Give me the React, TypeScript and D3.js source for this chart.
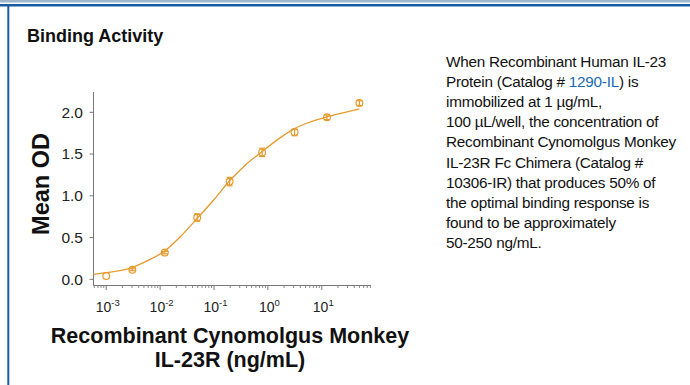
import React from "react";
import * as d3 from "d3";

const concentrations = [0.001, 0.00305, 0.0122, 0.0488, 0.195, 0.781, 3.125, 12.5, 50];
const meanOD = [0.04, 0.115, 0.32, 0.74, 1.17, 1.52, 1.76, 1.94, 2.11];
const errorOD = [0, 0.012, 0.015, 0.044, 0.05, 0.05, 0.04, 0.028, 0.028];

const fitX = [0.00058, 0.001, 0.00304, 0.00571, 0.0122, 0.0237, 0.0488, 0.0986, 0.195, 0.384, 0.78, 1.49, 3.12, 6.19, 12.5, 25.8, 50];
const fitY = [0.06, 0.08, 0.14, 0.22, 0.34, 0.51, 0.73, 0.95, 1.18, 1.37, 1.53, 1.67, 1.805, 1.885, 1.945, 1.995, 2.04];

const yTicks = [0, 0.5, 1.0, 1.5, 2.0];
const xMajorExps = [-3, -2, -1, 0, 1];

const descLines: { text: string; link?: string; after?: string }[] = [
  { text: "When Recombinant Human IL-23" },
  { text: "Protein (Catalog # ", link: "1290-IL", after: ") is" },
  { text: "immobilized at 1 µg/mL," },
  { text: "100 µL/well, the concentration of" },
  { text: "Recombinant Cynomolgus Monkey" },
  { text: "IL-23R Fc Chimera (Catalog #" },
  { text: "10306-IR) that produces 50% of" },
  { text: "the optimal binding response is" },
  { text: "found to be approximately" },
  { text: "50-250 ng/mL." },
];

const ORANGE = "#E69A2E";
const FONT = "'Liberation Sans', Arial, Helvetica, sans-serif";

export default function App() {
  const W = 690, H = 385;
  const x = d3.scaleLog().domain([0.00058, 82]).range([93.5, 371]);
  const y = d3.scaleLinear().domain([0, 2]).range([279.3, 112.3]);
  const axisY = 285.5;

  const minor: number[] = [];
  for (let e = -4; e <= 2; e++) {
    for (let m = 2; m <= 9; m++) {
      const v = m * Math.pow(10, e);
      if (v >= x.domain()[0] && v <= x.domain()[1]) minor.push(v);
    }
  }

  const line = d3
    .line<number>()
    .x((_, i) => x(fitX[i]))
    .y((d) => y(d))
    .curve(d3.curveMonotoneX);

  return (
    <svg
      width={W}
      height={H}
      style={{ position: "absolute", left: 0, top: 0, background: "#fff" }}
      fontFamily={FONT}
    >
      <rect x={0} y={0} width={W} height={H} fill="#fff" />
      <rect x={0} y={0} width={W} height={2.5} fill="#9fb5cc" />
      <rect x={0} y={4} width={W} height={2.5} fill="#1b5c9e" />
      <rect x={7.3} y={4} width={2} height={H - 4} fill="#1b5c9e" />

      <text x={27} y={42} fontSize={18} fontWeight="bold" fill="#111">
        Binding Activity
      </text>

      {/* axes */}
      <line x1={93.5} x2={93.5} y1={92} y2={axisY} stroke="#777" strokeWidth={1} />
      <line x1={93.5} x2={371} y1={axisY} y2={axisY} stroke="#777" strokeWidth={1} />

      {yTicks.map((t) => (
        <g key={t}>
          <line x1={89.5} x2={93.5} y1={y(t)} y2={y(t)} stroke="#777" />
          <text x={83} y={y(t) + 5.4} textAnchor="end" fontSize={15.5} fill="#222">
            {t.toFixed(1)}
          </text>
        </g>
      ))}

      {minor.map((v, i) => (
        <line key={"m" + i} x1={x(v)} x2={x(v)} y1={axisY} y2={axisY + 2.5} stroke="#888" />
      ))}
      {xMajorExps.map((e) => (
        <g key={e}>
          <line x1={x(Math.pow(10, e))} x2={x(Math.pow(10, e))} y1={axisY} y2={axisY + 4.5} stroke="#777" />
          <text x={x(Math.pow(10, e)) + 1.5} y={311.5} textAnchor="middle" fontSize={14} fill="#222">
            10
            <tspan fontSize={9.5} dy={-6}>
              {String(e)}
            </tspan>
          </text>
        </g>
      ))}

      <path d={line(fitY) || ""} fill="none" stroke={ORANGE} strokeWidth={1.3} />

      {concentrations.map((c, i) => {
        const cx = x(c);
        const cy = y(meanOD[i]);
        const e = errorOD[i];
        return (
          <g key={"p" + i} stroke={ORANGE} strokeWidth={1.2} fill="none">
            {e > 0 && (
              <>
                <line x1={cx} x2={cx} y1={y(meanOD[i] + e)} y2={y(meanOD[i] - e)} />
                <line x1={cx - 3} x2={cx + 3} y1={y(meanOD[i] + e)} y2={y(meanOD[i] + e)} />
                <line x1={cx - 3} x2={cx + 3} y1={y(meanOD[i] - e)} y2={y(meanOD[i] - e)} />
              </>
            )}
            <circle cx={cx} cy={cy} r={3.4} />
          </g>
        );
      })}

      <text
        transform={`translate(48.5,184) rotate(-90)`}
        textAnchor="middle"
        fontSize={23.5}
        fontWeight="bold"
        fill="#111"
      >
        Mean OD
      </text>

      <text x={230} y={343} textAnchor="middle" fontSize={21.5} fontWeight="bold" fill="#111">
        Recombinant Cynomolgus Monkey
      </text>
      <text x={230} y={367} textAnchor="middle" fontSize={21.5} fontWeight="bold" fill="#111">
        IL-23R (ng/mL)
      </text>

      {descLines.map((l, i) => (
        <text key={"d" + i} x={446} y={67 + i * 20.1} fontSize={15.3} fill="#111" letterSpacing={-0.25}>
          {l.text}
          {l.link && <tspan fill="#1a6bb5">{l.link}</tspan>}
          {l.after && <tspan>{l.after}</tspan>}
        </text>
      ))}
    </svg>
  );
}
